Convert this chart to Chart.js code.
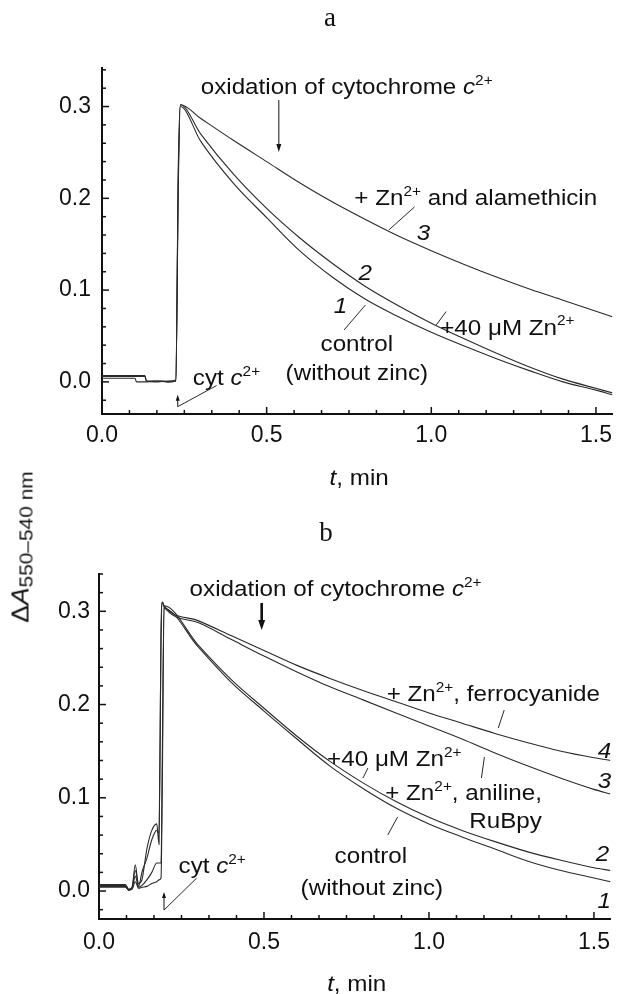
<!DOCTYPE html>
<html>
<head>
<meta charset="utf-8">
<script src="https://cdn.jsdelivr.net/npm/chart.js@4.4.1/dist/chart.umd.min.js"></script>
<style>
body { margin: 0; background: #fff; }
#page { position: relative; width: 620px; height: 994px; overflow: hidden; color: #111;
  font-family: "Liberation Sans", Arial, sans-serif; }
.box { position: absolute; left: 0; width: 620px; }
.panel { position: absolute; font: 27px "Liberation Serif", "Times New Roman", serif;
  transform: translate(-50%, -50%); line-height: 1; }
#ylab { position: absolute; left: 22px; top: 547px; white-space: nowrap; line-height: 1;
  font-size: 24px; transform: translate(-50%, -50%) rotate(-90deg) scaleX(1.1); }
#ylab sub { font-size: 19px; vertical-align: -4px; }
</style>
</head>
<body>
<div id="page">
  <div class="box" style="top:0;height:500px"><canvas id="chartA"></canvas></div>
  <div class="box" style="top:500px;height:494px"><canvas id="chartB"></canvas></div>
  <div class="panel" style="left:330px;top:17px">a</div>
  <div class="panel" style="left:326px;top:532px">b</div>
  <div id="ylab">Δ<i>A</i><sub>550–540 nm</sub></div>
</div>
<script>
// panel a: time (min) shared by the three traces
const tA = [0, 0.1, 0.105, 0.13, 0.135, 0.17, 0.2, 0.224, 0.232, 0.238,
  0.3, 0.4, 0.5, 0.6, 0.7, 0.8, 0.9, 1.0, 1.1, 1.2, 1.3, 1.4, 1.5, 1.55];
const a1 = [0.004, 0.004, 0.000, 0.000, 0.000, 0.001, 0.000, 0.001, 0.22, 0.300,
  0.262, 0.216, 0.179, 0.143, 0.114, 0.090, 0.071, 0.054, 0.039, 0.025, 0.012, 0.000, -0.009, -0.014];
const a2 = [0.007, 0.007, 0.007, 0.007, 0.001, 0.000, 0.001, 0.002, 0.24, 0.302,
  0.270, 0.226, 0.189, 0.157, 0.129, 0.104, 0.083, 0.064, 0.047, 0.031, 0.016, 0.003, -0.007, -0.012];
const a3 = [0.006, 0.006, 0.006, 0.006, 0.001, 0.001, 0.000, 0.001, 0.23, 0.302,
  0.287, 0.263, 0.240, 0.217, 0.196, 0.177, 0.159, 0.143, 0.128, 0.114, 0.101, 0.089, 0.077, 0.071];

// panel b
const tB = [0, 0.08, 0.09, 0.1, 0.11, 0.12, 0.13, 0.145, 0.16, 0.175, 0.182, 0.188, 0.192, 0.197,
  0.3, 0.4, 0.5, 0.6, 0.7, 0.8, 0.9, 1.0, 1.1, 1.2, 1.3, 1.4, 1.5, 1.55];
const b1 = [0.004, 0.004, 0.001, 0.002, 0.010, 0.003, 0.004, 0.005, 0.008, 0.010, 0.012, 0.014, 0.12, 0.303,
  0.262, 0.224, 0.193, 0.163, 0.134, 0.110, 0.089, 0.072, 0.058, 0.045, 0.032, 0.022, 0.014, 0.010];
const b2 = [0.005, 0.005, 0.001, 0.002, 0.016, 0.004, 0.006, 0.012, 0.020, 0.030, 0.030, 0.030, 0.15, 0.306,
  0.264, 0.227, 0.196, 0.166, 0.139, 0.116, 0.096, 0.079, 0.065, 0.053, 0.042, 0.033, 0.025, 0.022];
const b3 = [0.006, 0.006, 0.001, 0.003, 0.028, 0.005, 0.020, 0.035, 0.055, 0.065, 0.062, 0.27, 0.310, 0.305,
  0.288, 0.270, 0.252, 0.235, 0.219, 0.205, 0.191, 0.177, 0.163, 0.148, 0.134, 0.121, 0.109, 0.104];
const b4 = [0.007, 0.007, 0.002, 0.004, 0.022, 0.008, 0.012, 0.045, 0.065, 0.072, 0.050, 0.28, 0.310, 0.306,
  0.290, 0.274, 0.258, 0.242, 0.228, 0.215, 0.203, 0.191, 0.180, 0.169, 0.159, 0.150, 0.143, 0.140];

// tick labels
const xTicks = [0, 0.5, 1.0, 1.5];
const yTicks = [0, 0.1, 0.2, 0.3];

const FONT = '"Liberation Sans", Arial, sans-serif';
const SX = 1.1; // the original lettering is a bit wider than Liberation Sans

// runs: [text, style] where style '' normal, 'i' italic, '^' superscript
function richText(ctx, runs, cx, cy, size) {
    const fontOf = st => (st === 'i' ? 'italic ' : '') + (st === '^' ? Math.round(size * 0.64) : size) + 'px ' + FONT;
    let w = 0;
    const widths = runs.map(([txt, st]) => {
        ctx.font = fontOf(st);
        const m = ctx.measureText(txt).width;
        w += m;
        return m;
    });
    ctx.save();
    ctx.translate(cx - w * SX / 2, cy + size * 0.36);
    ctx.scale(SX, 1);
    ctx.fillStyle = '#111';
    ctx.textBaseline = 'alphabetic';
    let x = 0;
    runs.forEach(([txt, st], i) => {
        ctx.font = fontOf(st);
        ctx.fillText(txt, x, st === '^' ? -size * 0.42 : 0);
        x += widths[i];
    });
    ctx.restore();
}

function arrow(ctx, x, y1, y2, lw, hl, hw) {
    const dir = y2 > y1 ? 1 : -1;
    ctx.lineWidth = lw;
    ctx.beginPath();
    ctx.moveTo(x, y1);
    ctx.lineTo(x, y2 - dir * hl * 0.5);
    ctx.stroke();
    ctx.beginPath();
    ctx.moveTo(x, y2);
    ctx.lineTo(x - hw / 2, y2 - dir * hl);
    ctx.lineTo(x + hw / 2, y2 - dir * hl);
    ctx.closePath();
    ctx.fill();
}

const notesPlugin = {
    id: 'notes',
    afterDraw(chart, args, opts) {
        const ctx = chart.ctx;
        const xs = chart.scales.x, ys = chart.scales.y, area = chart.chartArea;
        const X = t => xs.getPixelForValue(t), Y = v => ys.getPixelForValue(v);
        ctx.save();
        ctx.strokeStyle = '#111';
        ctx.fillStyle = '#111';

        // inward ticks: minor every 5 s and 0.02, major every 0.5 min and 0.1
        ctx.lineWidth = 1.5;
        for (let k = 0; k / 12 <= xs.max + 1e-9; k++) {
            const px = X(k / 12), len = k % 6 === 0 ? 7 : 4;
            ctx.beginPath();
            ctx.moveTo(px, area.bottom);
            ctx.lineTo(px, area.bottom - len);
            ctx.stroke();
        }
        for (let k = Math.ceil(ys.min / 0.02); k * 0.02 <= ys.max + 1e-9; k++) {
            const py = Y(k * 0.02), len = k % 5 === 0 ? 7 : 4;
            ctx.beginPath();
            ctx.moveTo(area.left, py);
            ctx.lineTo(area.left + len, py);
            ctx.stroke();
        }

        ctx.lineWidth = 0.9;
        opts.lines.forEach(([p, q]) => {
            ctx.beginPath();
            ctx.moveTo(X(p[0]), Y(p[1]));
            ctx.lineTo(X(q[0]), Y(q[1]));
            ctx.stroke();
        });
        opts.arrows.forEach(a => arrow(ctx, X(a.t), Y(a.from), Y(a.to), a.lw, a.hl, a.hw));
        opts.texts.forEach(n => richText(ctx, n.runs, X(n.t), Y(n.v), n.size || 22));

        // axis title
        richText(ctx, [['t', 'i'], [', min', '']], (area.left + area.right) / 2 + 2, area.bottom + opts.titleGap, 22);
        ctx.restore();
    }
};

function pts(ts, vs) {
    return ts.map((t, i) => ({ x: t, y: vs[i] }));
}

function trace(ts, vs) {
    return {
        data: pts(ts, vs),
        borderColor: '#2a2a2a',
        borderWidth: 1.1,
        pointRadius: 0,
        fill: false,
        cubicInterpolationMode: 'monotone'
    };
}

function makeChart(id, datasets, yMin, yMax, frame, notes) {
    const tickFont = { family: FONT, size: 23 };
    return new Chart(document.getElementById(id), {
        type: 'line',
        data: { datasets: datasets },
        plugins: [notesPlugin],
        options: {
            responsive: true,
            maintainAspectRatio: false,
            animation: false,
            layout: { padding: { top: frame.top, right: 2, left: 0, bottom: 0 } },
            plugins: { legend: { display: false }, tooltip: { enabled: false }, notes: notes },
            scales: {
                x: {
                    type: 'linear', min: 0, max: 1.55,
                    grid: { display: false, drawTicks: false },
                    border: { display: true, color: '#111', width: 2 },
                    afterBuildTicks: s => { s.ticks = xTicks.map(v => ({ value: v })); },
                    ticks: { color: '#111', font: tickFont, padding: frame.xPad, callback: v => v.toFixed(1) },
                    afterFit: s => { s.height = frame.xH; }
                },
                y: {
                    min: yMin, max: yMax,
                    grid: { display: false, drawTicks: false },
                    border: { display: true, color: '#111', width: 2 },
                    afterBuildTicks: s => { s.ticks = yTicks.map(v => ({ value: v })); },
                    ticks: { color: '#111', font: tickFont, padding: frame.yPad, callback: v => v.toFixed(1) },
                    afterFit: s => { s.width = frame.yW; }
                }
            }
        }
    });
}

const zn = [['+40 μM Zn', ''], ['2+', '^']];
const oxid = [['oxidation of cytochrome ', ''], ['c', 'i'], ['2+', '^']];
const cyt = [['cyt ', ''], ['c', 'i'], ['2+', '^']];

makeChart('chartA', [trace(tA, a1), trace(tA, a2), trace(tA, a3)], -0.035, 0.342,
    { top: 68, xH: 86, yW: 102, xPad: 8, yPad: 11 },
    {
        titleGap: 63,
        texts: [
            { t: 0.743, v: 0.3224, runs: oxid },
            { t: 1.135, v: 0.2014, runs: [['+ Zn', ''], ['2+', '^'], [' and alamethicin', '']] },
            { t: 0.976, v: 0.1633, runs: [['3', 'i']] },
            { t: 0.799, v: 0.1197, runs: [['2', 'i']] },
            { t: 0.724, v: 0.0838, runs: [['1', 'i']] },
            { t: 0.774, v: 0.0424, runs: [['control', '']] },
            { t: 0.774, v: 0.0111, runs: [['(without zinc)', '']] },
            { t: 1.231, v: 0.0601, runs: zn },
            { t: 0.378, v: 0.0053, runs: cyt }
        ],
        lines: [
            [[0.949, 0.1906], [0.871, 0.1655]],
            [[0.735, 0.0565], [0.800, 0.0838]],
            [[1.015, 0.062], [1.045, 0.0766]],
            [[0.230, -0.027], [0.348, -0.004]]
        ],
        arrows: [
            { t: 0.537, from: 0.307, to: 0.2505, lw: 1, hl: 8, hw: 5 },
            { t: 0.230, from: -0.027, to: -0.014, lw: 1, hl: 6, hw: 4 }
        ]
    });

makeChart('chartB', [trace(tB, b1), trace(tB, b2), trace(tB, b3), trace(tB, b4)], -0.03, 0.34,
    { top: 74, xH: 75, yW: 99, xPad: 10, yPad: 9 },
    {
        titleGap: 64,
        texts: [
            { t: 0.717, v: 0.325, runs: oxid },
            { t: 1.195, v: 0.2124, runs: [['+ Zn', ''], ['2+', '^'], [', ferrocyanide', '']] },
            { t: 1.532, v: 0.1512, runs: [['4', 'i']] },
            { t: 1.532, v: 0.119, runs: [['3', 'i']] },
            { t: 1.526, v: 0.0408, runs: [['2', 'i']] },
            { t: 1.531, v: -0.0096, runs: [['1', 'i']] },
            { t: 0.895, v: 0.1427, runs: zn },
            { t: 1.105, v: 0.1062, runs: [['+ Zn', ''], ['2+', '^'], [', aniline,', '']] },
            { t: 1.232, v: 0.0762, runs: [['RuBpy', '']] },
            { t: 0.824, v: 0.0386, runs: [['control', '']] },
            { t: 0.827, v: 0.0043, runs: [['(without zinc)', '']] },
            { t: 0.343, v: 0.0279, runs: cyt }
        ],
        lines: [
            [[1.228, 0.1941], [1.210, 0.1748]],
            [[0.815, 0.132], [0.800, 0.1212]],
            [[1.159, 0.1212], [1.168, 0.1437]],
            [[0.875, 0.060], [0.905, 0.0794]],
            [[0.197, -0.0204], [0.296, 0.0139]]
        ],
        arrows: [
            { t: 0.493, from: 0.3089, to: 0.280, lw: 2.6, hl: 10, hw: 7 },
            { t: 0.197, from: -0.0204, to: -0.001, lw: 1, hl: 6, hw: 4 }
        ]
    });
</script>
</body>
</html>
